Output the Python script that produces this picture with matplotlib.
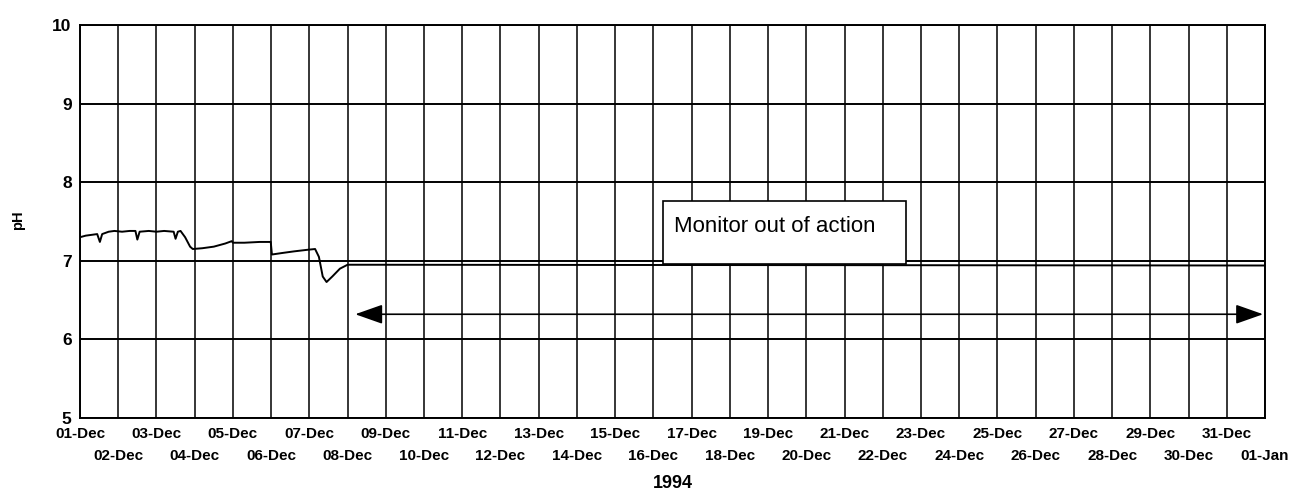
import matplotlib
matplotlib.use("Agg")
import matplotlib.pyplot as plt
import matplotlib.transforms as mtransforms
from matplotlib.patches import Rectangle

plt.rcParams['font.family'] = ['Liberation Sans', 'DejaVu Sans']

# ---- data ----
day_labels = ["01-Dec", "02-Dec", "03-Dec", "04-Dec", "05-Dec", "06-Dec", "07-Dec", "08-Dec",
              "09-Dec", "10-Dec", "11-Dec", "12-Dec", "13-Dec", "14-Dec", "15-Dec", "16-Dec",
              "17-Dec", "18-Dec", "19-Dec", "20-Dec", "21-Dec", "22-Dec", "23-Dec", "24-Dec",
              "25-Dec", "26-Dec", "27-Dec", "28-Dec", "29-Dec", "30-Dec", "31-Dec", "01-Jan"]
y_ticks = [5, 6, 7, 8, 9, 10]

# time in days since 01-Dec 1994, pH readings
t_days = [0.0, 0.15, 0.3, 0.45, 0.52, 0.58, 0.75, 0.9, 1.1, 1.3, 1.45, 1.5, 1.56, 1.8,
          2.0, 2.2, 2.45, 2.5, 2.56, 2.63, 2.75, 2.88, 2.95, 3.2, 3.5, 3.8, 3.97, 4.0,
          4.3, 4.7, 4.99, 5.02, 5.3, 5.6, 5.95, 6.15, 6.25, 6.35, 6.45, 6.6, 6.8, 7.0,
          31.0]
ph = [7.30, 7.32, 7.33, 7.34, 7.24, 7.34, 7.37, 7.38, 7.37, 7.38, 7.38, 7.27, 7.37, 7.38,
      7.37, 7.38, 7.37, 7.28, 7.37, 7.38, 7.30, 7.18, 7.15, 7.16, 7.18, 7.22, 7.25, 7.23,
      7.23, 7.24, 7.24, 7.08, 7.10, 7.12, 7.14, 7.15, 7.05, 6.80, 6.73, 6.80, 6.90, 6.95,
      6.94]

annotation_text = "Monitor out of action"
arrow_start, arrow_end, arrow_ph = 7.2, 30.95, 6.32
box_x0, box_x1, box_y0, box_y1 = 15.26, 21.6, 6.96, 7.76

# ---- figure ----
fig = plt.figure(figsize=(13.02, 4.97), dpi=100)
ax = fig.add_axes([80 / 1302, 1 - 418 / 497, (1265 - 80) / 1302, (418 - 25) / 497])

n = len(day_labels)
days = list(range(n))
ax.set_xlim(0, n - 1)
ax.set_ylim(5, 10)

for d in days:
    ax.axvline(d, color='black', lw=1.1, zorder=1)
for y in y_ticks:
    ax.axhline(y, color='black', lw=1.4, zorder=1)

ax.plot(t_days, ph, color='black', lw=1.4, zorder=3)

# annotation box
ax.add_patch(Rectangle((box_x0, box_y0), box_x1 - box_x0, box_y1 - box_y0,
                       facecolor='white', edgecolor='black', lw=1.2, zorder=4))
ax.text(box_x0 + 0.28, 7.44, annotation_text, fontsize=16, va='center', ha='left', zorder=5)

# double arrow
ax.annotate('', xy=(arrow_start, arrow_ph), xytext=(arrow_end, arrow_ph),
            arrowprops=dict(arrowstyle='<|-|>,head_length=1.7,head_width=0.6',
                            color='black', lw=1.2, shrinkA=0, shrinkB=0), zorder=5)

ax.set_xticks(days)
ax.set_xticklabels([])
ax.set_yticks(y_ticks)
ax.set_yticklabels([str(v) for v in y_ticks], fontsize=12.5, fontweight='bold')
ax.tick_params(length=0, pad=6)
for s in ax.spines.values():
    s.set_linewidth(1.4)

trans = mtransforms.blended_transform_factory(ax.transData, fig.transFigure)
for i, lab in enumerate(day_labels):
    ypix = 434 if i % 2 == 0 else 456
    ax.text(i, 1 - ypix / 497, lab, transform=trans, ha='center', va='center',
            fontsize=11, fontweight='bold')

fig.text((80 + 1265) / 2 / 1302, 1 - 484 / 497, "1994", ha='center', va='center',
         fontsize=13, fontweight='bold')
fig.text(18 / 1302, 1 - 220 / 497, "pH", rotation=90, ha='center', va='center',
         fontsize=10.5, fontweight='bold')

fig.savefig("out.png", dpi=100)
